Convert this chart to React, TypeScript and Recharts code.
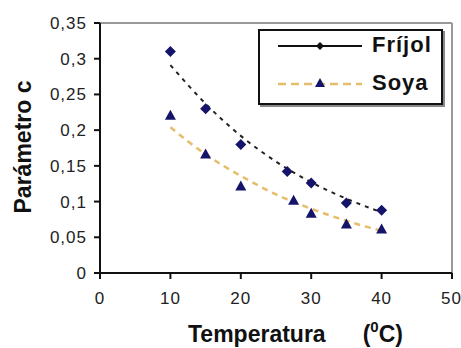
import React from "react";
import {
  ComposedChart,
  Line,
  Scatter,
  XAxis,
  YAxis,
  ReferenceLine,
} from "recharts";

// measured points
const frijolPts = [
  { x: 10, y: 0.31 },
  { x: 15, y: 0.23 },
  { x: 20, y: 0.18 },
  { x: 26.6, y: 0.142 },
  { x: 30, y: 0.126 },
  { x: 35, y: 0.098 },
  { x: 40, y: 0.088 },
];
const soyaPts = [
  { x: 10, y: 0.22 },
  { x: 15, y: 0.166 },
  { x: 20, y: 0.121 },
  { x: 27.5, y: 0.101 },
  { x: 30, y: 0.083 },
  { x: 35, y: 0.068 },
  { x: 40, y: 0.061 },
];
// dashed trend curves
const frijolTrend = [
  { x: 10, y: 0.291 },
  { x: 15, y: 0.237 },
  { x: 20, y: 0.192 },
  { x: 25, y: 0.156 },
  { x: 30, y: 0.127 },
  { x: 35, y: 0.104 },
  { x: 40, y: 0.085 },
];
const soyaTrend = [
  { x: 10, y: 0.204 },
  { x: 15, y: 0.166 },
  { x: 20, y: 0.136 },
  { x: 25, y: 0.11 },
  { x: 30, y: 0.09 },
  { x: 35, y: 0.073 },
  { x: 40, y: 0.059 },
];
const xTicks = [0, 10, 20, 30, 40, 50];
const yTicks = [0, 0.05, 0.1, 0.15, 0.2, 0.25, 0.3, 0.35];

const navy = "#14146a";
const soyaLine = "#e6bd6a";
const font = "'Liberation Sans', Arial, sans-serif";

const Diamond = (props: any) => {
  const { cx, cy } = props;
  if (cx == null || cy == null) return null;
  const r = 5.5;
  return <path d={`M${cx},${cy - r}L${cx + r},${cy}L${cx},${cy + r}L${cx - r},${cy}Z`} fill={navy} />;
};

const Triangle = (props: any) => {
  const { cx, cy } = props;
  if (cx == null || cy == null) return null;
  return <path d={`M${cx},${cy - 6}L${cx + 5.5},${cy + 4}L${cx - 5.5},${cy + 4}Z`} fill={navy} />;
};

const XLabel = () => (
  <text x={188} y={342} fill="#111" fontSize={23} fontWeight="bold" fontFamily={font}>
    <tspan>Temperatura</tspan>
    <tspan dx={37}>(</tspan>
    <tspan dy={-10} fontSize={15}>0</tspan>
    <tspan dy={10}>C)</tspan>
  </text>
);

const YLabel = () => (
  <text
    x={23}
    y={147}
    transform="rotate(-90, 23, 147)"
    textAnchor="middle"
    dominantBaseline="central"
    fill="#111"
    fontSize={23}
    fontWeight="bold"
    fontFamily={font}
  >
    Parámetro c
  </text>
);

const LegendBox = () => (
  <div
    style={{
      position: "absolute",
      left: 258,
      top: 29,
      width: 181,
      height: 72,
      border: "2px solid #111",
      boxShadow: "2px 2px 0 #888",
      background: "#fff",
      fontFamily: font,
      fontWeight: "bold",
      fontSize: 22,
      letterSpacing: 1,
      color: "#111",
    }}
  >
    <svg width={90} height={72} style={{ position: "absolute", left: 14, top: 0 }}>
      <line x1={4} x2={88} y1={15} y2={15} stroke="#111" strokeWidth={2} />
      <path d="M46,11L50,15L46,19L42,15Z" fill="#111" />
      <line x1={4} x2={88} y1={53} y2={53} stroke={soyaLine} strokeWidth={2.5} strokeDasharray="8 5" />
      <path d="M46,47L51,56L41,56Z" fill={navy} />
    </svg>
    <div style={{ position: "absolute", left: 112, top: 1 }}>Fríjol</div>
    <div style={{ position: "absolute", left: 112, top: 39 }}>Soya</div>
  </div>
);

const tickStyle = { fill: "#222", fontSize: 17, fontFamily: font, letterSpacing: 1 };

export default function App() {
  return (
    <div style={{ position: "absolute", left: 0, top: 0, width: 461, height: 348, background: "#fff" }}>
      <ComposedChart width={461} height={348} margin={{ top: 23, right: 9, left: 0, bottom: 0 }}>
        <XAxis
          type="number"
          dataKey="x"
          domain={[0, 50]}
          ticks={xTicks}
          height={75}
          axisLine={{ stroke: "#111", strokeWidth: 2 }}
          tickLine={{ stroke: "#111", strokeWidth: 2 }}
          tickSize={6}
          tickMargin={13}
          tick={tickStyle}
          label={<XLabel />}
        />
        <YAxis
          type="number"
          dataKey="y"
          domain={[0, 0.35]}
          ticks={yTicks}
          width={100}
          axisLine={{ stroke: "#111", strokeWidth: 2 }}
          tickLine={{ stroke: "#111", strokeWidth: 2 }}
          tickSize={6}
          tickMargin={7}
          tickFormatter={(v: number) => String(v).replace(".", ",")}
          tick={tickStyle}
          label={<YLabel />}
        />
        <ReferenceLine y={0.35} stroke="#999" strokeWidth={2} />
        <ReferenceLine x={50} stroke="#999" strokeWidth={2} />
        <Line
          data={frijolTrend}
          dataKey="y"
          type="monotone"
          stroke="#222"
          strokeWidth={2}
          strokeDasharray="4 5"
          dot={false}
          isAnimationActive={false}
        />
        <Line
          data={soyaTrend}
          dataKey="y"
          type="monotone"
          stroke={soyaLine}
          strokeWidth={2.5}
          strokeDasharray="6 5"
          dot={false}
          isAnimationActive={false}
        />
        <Scatter data={frijolPts} dataKey="y" shape={Diamond} isAnimationActive={false} />
        <Scatter data={soyaPts} dataKey="y" shape={Triangle} isAnimationActive={false} />
      </ComposedChart>
      <LegendBox />
    </div>
  );
}
